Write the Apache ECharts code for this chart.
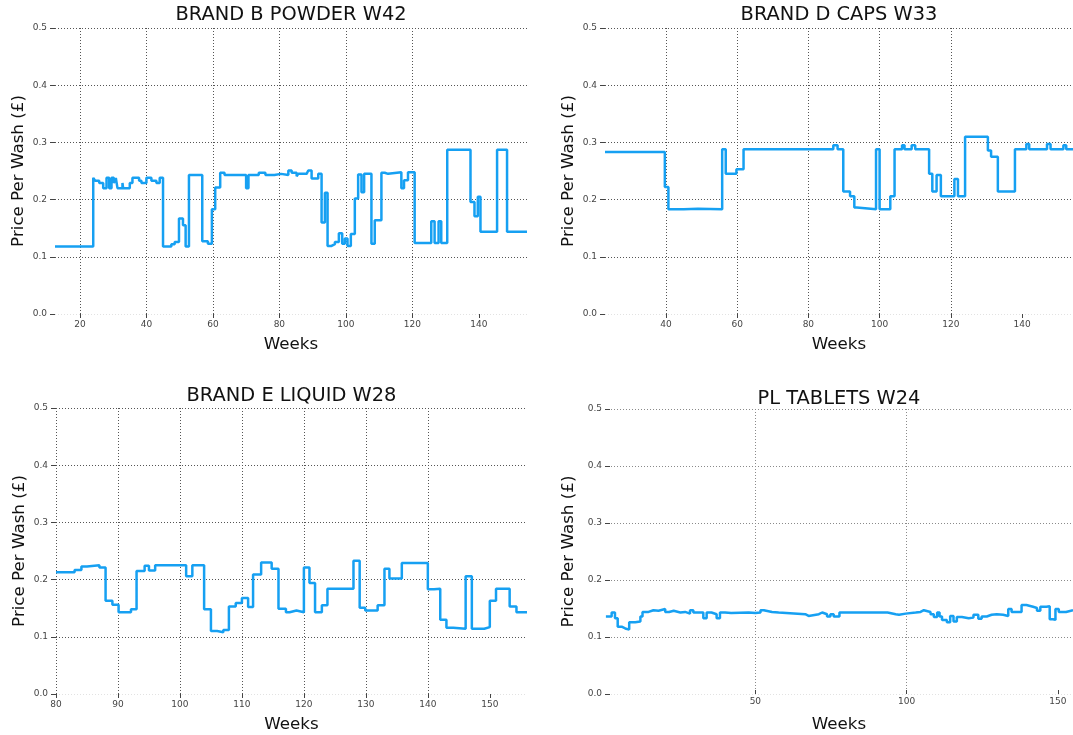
<!DOCTYPE html>
<html><head><meta charset="utf-8">
<script src="https://cdn.jsdelivr.net/npm/echarts@6/dist/echarts.min.js"></script>
<style>html,body{margin:0;padding:0;background:#fff}#c{width:1073px;height:735px}</style>
</head><body><div id="c"></div>
<script>
// ---- DATA ----
const panelTitles = ['BRAND B POWDER W42', 'BRAND D CAPS W33', 'BRAND E LIQUID W28', 'PL TABLETS W24'];
const xAxisName = 'Weeks';
const yAxisName = 'Price Per Wash (£)';
const yTicks = [0, 0.1, 0.2, 0.3, 0.4, 0.5];

const xTicksB = [20, 40, 60, 80, 100, 120, 140];
const xTicksD = [40, 60, 80, 100, 120, 140];
const xTicksE = [80, 90, 100, 110, 120, 130, 140, 150];
const xTicksPL = [50, 100, 150];

// step changes: price holds from weeks[i] until weeks[i+1]
const weeksB = [12.5,24,24.6,25.8,27,28,28.8,29.5,30.2,30.8,31.3,32.8,33,35,35.8,37.8,38.5,40,41.5,43,44,45,47.5,48.5,49.8,51,51.8,52.8,56.8,58.5,59.7,60.7,62.2,63.5,70,70.7,73.8,75.8,78.5,80.5,82.7,83.7,85.2,85.7,88.2,88.7,89.7,91.7,92.7,93.7,94.5,95.7,96.7,97.9,98.9,99.7,100.5,101.5,102.7,103.7,104.7,105.5,107.7,108.7,110.7,111.7,112.7,116.7,117.5,118.7,120.7,125.7,126.7,127.9,128.7,130.5,137.5,138.7,139.7,140.5,145.5,148.5,154.5];
const priceB = [0.118,0.238,0.233,0.229,0.220,0.238,0.220,0.238,0.229,0.238,0.220,0.229,0.220,0.229,0.238,0.233,0.229,0.238,0.233,0.229,0.238,0.118,0.122,0.126,0.167,0.155,0.118,0.243,0.127,0.123,0.183,0.221,0.247,0.243,0.220,0.243,0.247,0.243,0.245,0.243,0.251,0.247,0.241,0.245,0.243,0.251,0.237,0.245,0.160,0.212,0.119,0.122,0.126,0.141,0.123,0.132,0.119,0.140,0.202,0.244,0.213,0.245,0.123,0.164,0.247,0.245,0.248,0.220,0.234,0.248,0.124,0.162,0.124,0.162,0.124,0.287,0.196,0.171,0.205,0.144,0.287,0.144,0.144];

const weeksD = [22.9,39.7,40.7,45,49,55.8,56.8,59.8,61.8,87,88.2,89.8,91.7,92.9,93.6,99,100,103,104.2,106.3,107,109,110,113.9,114.8,116,117.2,121,122,124,130.4,131.3,133.2,138,141.2,142,147,148,151.6,152.4,154.3];
const priceD = [0.283,0.222,0.183,0.184,0.183,0.288,0.245,0.253,0.288,0.295,0.288,0.214,0.206,0.186,0.183,0.288,0.183,0.206,0.288,0.295,0.288,0.295,0.288,0.245,0.214,0.243,0.206,0.236,0.206,0.310,0.286,0.275,0.214,0.288,0.297,0.288,0.297,0.288,0.295,0.288,0.288];

const weeksE = [80,83,84.1,85,87,88,89.1,90.1,92.1,93,94.3,95,96,101,102,103.9,105,106,107,107.9,109,110,111,111.8,113.1,114.8,115.9,117.1,117.7,118.8,120,120.9,121.8,122.9,123.8,128,129,129.9,131.9,133,133.8,135.8,140,141,142,143,144.1,146.1,147.1,149.1,150,151,153.2,154.3,156];
const priceE = [0.213,0.217,0.223,0.225,0.221,0.163,0.156,0.143,0.148,0.215,0.224,0.216,0.225,0.206,0.225,0.148,0.110,0.108,0.112,0.153,0.159,0.168,0.152,0.209,0.230,0.219,0.149,0.143,0.146,0.143,0.221,0.194,0.143,0.155,0.184,0.233,0.151,0.146,0.155,0.219,0.202,0.229,0.183,0.184,0.130,0.116,0.114,0.206,0.114,0.117,0.163,0.184,0.153,0.143,0.143];

const weeksPL = [0.6,2.5,3.6,4.5,5.8,7,8.3,10.3,12,12.7,14.7,16.3,18,20.2,21.5,23,25.2,26.8,28.4,29.5,32.8,33.9,35.5,37.2,38.3,40,42,47.8,50,51.7,52.8,55.5,57.7,66.5,67.6,71,72.1,73.7,74.8,75.9,77.8,84.9,86.5,93.7,96.4,97.5,99.7,103,104.6,105.7,107.9,109,110.1,110.9,111.7,113.3,114.4,115.5,116.6,118.3,120.5,122.1,123.7,124.8,126.5,128.1,129.8,131.9,133.6,134.7,138,139.6,141.8,143.1,144.2,146.2,147.3,148.4,149.2,150.3,152.7,155];
const pricePL = [0.136,0.143,0.133,0.118,0.115,0.113,0.126,0.127,0.136,0.144,0.147,0.146,0.149,0.144,0.146,0.143,0.144,0.141,0.147,0.143,0.133,0.143,0.140,0.133,0.143,0.142,0.143,0.142,0.143,0.147,0.144,0.143,0.140,0.137,0.140,0.143,0.140,0.136,0.140,0.136,0.143,0.143,0.143,0.140,0.139,0.141,0.143,0.144,0.147,0.144,0.140,0.135,0.143,0.136,0.130,0.126,0.137,0.127,0.135,0.133,0.134,0.139,0.132,0.136,0.139,0.140,0.139,0.137,0.149,0.144,0.156,0.153,0.151,0.146,0.153,0.154,0.131,0.130,0.149,0.144,0.147,0.147];

// ---- LAYOUT ----
const FONT = 'DejaVu Sans';
const panels = [
  {weeks: weeksB, price: priceB, ticks: xTicksB, xmin: 12.5, xmax: 154.5, grid: {left: 55, top: 28, width: 472, height: 286}, titleTop: 5, inside: false, grid_c: '#555'},
  {weeks: weeksD, price: priceD, ticks: xTicksD, xmin: 22.9, xmax: 154.3, grid: {left: 605, top: 28, width: 468, height: 286}, titleTop: 5, inside: false, grid_c: '#555'},
  {weeks: weeksE, price: priceE, ticks: xTicksE, xmin: 80, xmax: 156, grid: {left: 56, top: 408, width: 471, height: 286}, titleTop: 386, inside: false, grid_c: '#555'},
  {weeks: weeksPL, price: pricePL, ticks: xTicksPL, xmin: 0.3, xmax: 155, grid: {left: 605, top: 409, width: 468, height: 285}, titleTop: 389, inside: true, grid_c: '#8a8a8a'}
];

const option = {
  animation: false,
  backgroundColor: '#fff',
  title: [], grid: [], xAxis: [], yAxis: [], series: []
};

panels.forEach((p, i) => {
  option.grid.push(Object.assign({containLabel: false}, p.grid));
  option.title.push({
    text: panelTitles[i],
    left: p.grid.left + p.grid.width / 2,
    top: p.titleTop,
    textAlign: 'center',
    padding: 0,
    textStyle: {fontFamily: FONT, fontSize: 19.4, fontWeight: 'normal', color: '#111'}
  });
  option.xAxis.push({
    type: 'value', gridIndex: i, min: p.xmin, max: p.xmax,
    name: xAxisName, nameLocation: 'middle', nameGap: 22,
    nameTextStyle: {fontFamily: FONT, fontSize: 16.7, color: '#111'},
    axisLine: {show: false},
    axisTick: {show: true, inside: p.inside, length: 4, customValues: p.ticks, lineStyle: {color: '#444', width: 1}},
    axisLabel: {customValues: p.ticks, margin: p.inside ? 3 : 6, fontFamily: FONT, fontSize: 9, color: '#444'},
    splitLine: {show: true, showMinLine: true, showMaxLine: false, lineStyle: {color: p.grid_c, width: 1, type: [1, 2]}}
  });
  option.yAxis.push({
    type: 'value', gridIndex: i, min: 0, max: 0.5, interval: 0.1,
    name: yAxisName, nameLocation: 'middle', nameGap: 28,
    nameTextStyle: {fontFamily: FONT, fontSize: 16.7, color: '#111'},
    axisLine: {show: false},
    axisTick: {show: true, inside: p.inside, length: 5, lineStyle: {color: '#444', width: 1}},
    axisLabel: {margin: p.inside ? 3 : 8, fontFamily: FONT, fontSize: 9, color: '#444', formatter: v => v.toFixed(1)},
    splitLine: {show: true, lineStyle: {color: ['#e2e2e2', p.grid_c, p.grid_c, p.grid_c, p.grid_c, p.grid_c], width: 1, type: [1, 2]}}
  });
  option.series.push({
    type: 'line', xAxisIndex: i, yAxisIndex: i, step: 'end',
    data: p.weeks.map((w, k) => [w, p.price[k]]),
    showSymbol: false, symbol: 'none', silent: true, clip: true,
    lineStyle: {color: '#16a0f2', width: 2.5}
  });
});

const chart = echarts.init(document.getElementById('c'), null, {renderer: 'canvas'});
chart.setOption(option);
</script>
</body></html>
